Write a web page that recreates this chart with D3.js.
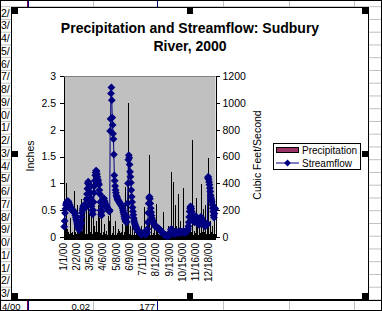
<!DOCTYPE html>
<html><head><meta charset="utf-8">
<script src="https://cdn.jsdelivr.net/npm/d3@7"></script>
<style>
html,body{margin:0;padding:0;background:#fff;overflow:hidden}
svg{display:block;font-family:Arial,"Liberation Sans",sans-serif}
</style></head><body>
<svg id="c" width="382" height="311"></svg>
<script>
// ---- Data (daily, year 2000) ----
const flowJan = [77,120,178,210,238,250,258,262,265,268,263,255,245,240,230,220,210,205,200,200,205,200,195,190,185,180,175,160,145,130,120];
const flowFeb = [105,95,80,70,60,52,60,75,90,100,110,150,180,200,215,225,232,238,240,238,230,220,240,280,320,360,400,412,400];
const flowMar = [390,375,370,330,290,260,230,200,175,170,200,260,330,380,420,460,480,495,490,470,450,430,420,400,390,350,320,260,200,170,160];
const flowApr = [190,230,260,280,290,285,270,260,250,240,235,230,225,220,210,205,200,195,190,200,790,880,1070,1115,1020,890,835,770,730,615];
const flowMay = [460,420,380,350,330,310,300,290,280,275,270,265,260,255,250,245,240,235,230,225,215,200,185,170,155,140,130,120,115,110,112];
const flowJun = [150,250,400,575,610,590,540,487,450,405,350,300,260,220,190,165,140,120,104,95,85,77,70,62,55,50,45,42,40,38];
const flowJul = [35,30,28,25,22,20,20,22,25,28,30,28,25,22,20,20,22,25,35,60,110,180,250,290,300,285,250,215,185,160,140];
const flowAug = [125,115,105,100,95,90,85,80,78,75,75,72,70,68,65,62,60,58,55,52,50,45,40,35,30,28,25,22,20,18,16];
const flowSep = [15,14,12,10,10,8,8,8,10,12,14,16,25,40,55,60,55,45,38,32,28,25,24,24,26,30,35,40,38,35];
const flowOct = [32,30,28,30,35,40,45,42,38,35,33,32,34,38,42,40,38,35,33,32,35,38,40,45,50,60,80,110,150,190,215];
const flowNov = [228,225,210,190,170,150,135,125,120,115,110,120,140,155,150,140,130,120,110,100,95,90,100,120,140,150,145,135,125,115];
const flowDec = [105,100,95,90,85,80,85,95,100,95,90,100,440,450,430,410,390,365,340,310,290,275,260,240,215,190,160,145,175,215,210];

const rainJan = [0.05,0.12,0.3,0.02,0,0.08,1.0,0.04,0.15,0,0.03,0.1,0,0.06,0.35,0.02,0,0.05,0.08,0,0.04,0.1,0,0.03,0.85,0.06,0,0.02,0.09,0,0.05];
const rainFeb = [0.04,0.02,0.6,0.08,0,0.2,0.05,0,0.1,0.03,0.06,0.7,0.02,0,0.12,0.66,0.04,0.08,0.75,0,0.05,0.03,0.5,0.1,0,0.06,0.04,0.75,0.08];
const rainMar = [0.06,0,0.45,0.1,0.03,0,0.08,0.4,0.05,0.02,0.12,1.15,0.2,0.04,0,0.06,0.09,0.3,0.03,0,0.05,0.1,0.6,0.07,0,0.04,0.35,0.02,0.08,0,0.05];
const rainApr = [0.5,0.04,0,0.08,0.03,0.1,0,0.25,0.05,0.02,0,0.07,0.12,0.03,0,0.4,0.06,0,0.1,0.3,0.45,0.2,0.05,0,0.03,0.08,0,0.2,0.04,0];
const rainMay = [0.02,0,0.06,0.1,0.3,0.04,0,0.08,0.02,0.15,0,0.05,0.12,0,0.03,0.07,0,0.1,0.04,0.25,0,0.06,0.02,0,0.09,0.05,0,0.12,0.93,0.2,0.04];
const rainJun = [0.05,0.1,0.3,0.15,2.5,0.06,0,0.03,0,0.2,0.04,0,0.08,0,0.4,0.02,0,0,0.06,0.1,0,0.03,0,0.35,0.05,0,0.02,0.08,0,0.15];
const rainJul = [0,0.04,0,0.1,0.2,0,0.02,0.06,0,0,0.03,0.56,0.08,0.5,0,0.02,0,0.05,0,0.04,0.3,0.12,0.35,0.2,1.53,0.05,0,0.03,0,0.08,0.25];
const rainAug = [0.03,0,0.08,0,0.38,0.05,0,0.02,0,0.62,0.1,0,0.04,0.2,0,0,0.06,0.02,0,0.03,0.15,0,0.05,0,0.02,0.08,0,0,0.47,0.06,0];
const rainSep = [0.02,0,0.1,0.04,0,0,0.06,0.2,0,0.03,0,0.08,0.02,0.1,1.22,0.05,0,0.02,0.06,1.03,0.04,0,0.03,0.08,0.59,0.02,0,0.05,0.2,0];
const rainOct = [0.04,0,0.81,0.06,0,0.02,0.1,0,0.3,0.04,0,0.08,0.02,0,0.05,0.91,0.1,0,0.03,0.06,0.15,0,0.04,0.02,0,0.08,0.34,0.12,0.45,0.06,0.2];
const rainNov = [0.08,0.03,0,0.1,0.05,1.8,0.06,0,0.02,0.12,0.04,0,0.08,0.03,0.73,0.05,0,0.1,0.25,0.02,0,0.06,0.04,0.3,0,0.08,0.03,0.98,0.1,0.05];
const rainDec = [0.06,0.53,0.04,0,0.1,0.03,0.08,0.6,0.05,0,0.45,0.12,0.3,1.48,0.1,0.04,0.06,0,0.08,0.3,0.05,0.02,0.1,0,0.2,0.06,0.04,0.08,0,0.35,0.05];

const tickLabels = ["1/1/00","2/2/00","3/5/00","4/6/00","5/8/00","6/9/00","7/11/00","8/12/00","9/13/00","10/15/00","11/16/00","12/18/00"];
const tickDays = [0,32,64,96,128,160,192,224,256,288,320,352];
const leftTicks = [0,0.5,1,1.5,2,2.5,3];
const rightTicks = [0,200,400,600,800,1000,1200];
const seriesNames = ["Precipitation","Streamflow"];
const titleLines = ["Precipitation and Streamflow: Sudbury","River, 2000"];
const axisTitles = ["Inches","Cubic Feet/Second"];
const sheetRowLabels = ["2/","3/","4/","5/","6/","7/","8/","9/","0/","1/","2/","3/","4/","5/","6/","7/","8/","9/","0/","1/","1/","2/","3/"];
const sheetBottomRow = ["4/00","0.02","177"];

const streamflow = [].concat(flowJan,flowFeb,flowMar,flowApr,flowMay,flowJun,flowJul,flowAug,flowSep,flowOct,flowNov,flowDec);
const precipitation = [].concat(rainJan,rainFeb,rainMar,rainApr,rainMay,rainJun,rainJul,rainAug,rainSep,rainOct,rainNov,rainDec);
const days = d3.range(streamflow.length);

// ---- Drawing ----
const svg = d3.select("#c");
const W = 382, H = 311;
const navy = "#000080";

// spreadsheet background
const sheet = svg.append("g");
const rowH = 12.75, row0 = 6.7;
for (let k = 0; k <= 23; k++) {
  sheet.append("line").attr("x1",0).attr("x2",W).attr("y1",row0+k*rowH).attr("y2",row0+k*rowH)
    .attr("stroke","#c0c0c0").attr("stroke-width",1);
}
[93.5,223.5,289.5,354.5].forEach(x=>sheet.append("line").attr("x1",x).attr("x2",x).attr("y1",0).attr("y2",H).attr("stroke","#c0c0c0"));
sheet.append("line").attr("x1",27.5).attr("x2",27.5).attr("y1",0).attr("y2",H).attr("stroke","#800040");
sheet.append("line").attr("x1",28.5).attr("x2",28.5).attr("y1",0).attr("y2",H).attr("stroke",navy);
sheet.append("line").attr("x1",157.5).attr("x2",157.5).attr("y1",0).attr("y2",H).attr("stroke",navy);
sheetRowLabels.forEach((t,k)=>sheet.append("text").attr("x",1).attr("y",row0+k*rowH+10).attr("font-size","10.5px").text(t));
sheet.append("text").attr("x",2).attr("y",309.5).attr("font-size","9.5px").text(sheetBottomRow[0]);
sheet.append("text").attr("x",90).attr("y",309.5).attr("text-anchor","end").attr("font-size","9.5px").text(sheetBottomRow[1]);
sheet.append("text").attr("x",155).attr("y",309.5).attr("text-anchor","end").attr("font-size","9.5px").text(sheetBottomRow[2]);
sheet.append("line").attr("x1",0).attr("x2",W).attr("y1",300.5).attr("y2",300.5).attr("stroke","#000");

// chart frame
svg.append("rect").attr("x",11.5).attr("y",7.5).attr("width",357).attr("height",292)
  .attr("fill","#fff").attr("stroke","#000").attr("stroke-width",1);

// title
titleLines.forEach((t,i)=>svg.append("text").attr("x",190).attr("y",33+i*17.5)
  .attr("text-anchor","middle").attr("font-weight","bold").attr("font-size","14px").text(t));

// scales
const L = 64, R = 215.5, T = 76, B = 237;
const x = d3.scaleBand().domain(days).range([L,R]).paddingInner(0).paddingOuter(0);
const bw = x.bandwidth();
const yL = d3.scaleLinear().domain([0,3]).range([B,T]);
const yR = d3.scaleLinear().domain([0,1200]).range([B,T]);

// plot area
svg.append("rect").attr("x",L).attr("y",T).attr("width",R-L).attr("height",B-T).attr("fill","#c0c0c0");
svg.append("line").attr("x1",L).attr("x2",R).attr("y1",T+0.5).attr("y2",T+0.5).attr("stroke","#808080");

// precipitation bars
svg.append("g").attr("shape-rendering","crispEdges").selectAll("rect")
  .data(days.filter(i=>precipitation[i]>0)).join("rect")
  .attr("x",i=>Math.floor(x(i)+bw/2))
  .attr("width",1)
  .attr("y",i=>yL(precipitation[i]))
  .attr("height",i=>B-yL(precipitation[i]))
  .attr("fill","#000");

// axes
const fontSz = "10.5px";
const gl = svg.append("g").attr("transform",`translate(${L},0)`)
  .call(d3.axisLeft(yL).tickValues(leftTicks).tickSize(4).tickSizeOuter(0).tickPadding(4).tickFormat(d3.format("")));
const gr = svg.append("g").attr("transform",`translate(${R},0)`)
  .call(d3.axisRight(yR).tickValues(rightTicks).tickSize(4).tickSizeOuter(0).tickPadding(3).tickFormat(d3.format("")));
[gl,gr].forEach(g=>{
  g.selectAll("text").attr("font-size",fontSz).attr("fill","#000").attr("font-family",null);
  g.selectAll("line,path").attr("stroke","#000").attr("shape-rendering","crispEdges");
  g.attr("font-family",null);
});

const gb = svg.append("g").attr("transform",`translate(0,${B})`)
  .call(d3.axisBottom(x).tickValues(days).tickSize(3).tickSizeOuter(0).tickFormat(""));
gb.selectAll("line").attr("y1",-2).attr("stroke","#000").attr("shape-rendering","crispEdges");
gb.select(".domain").attr("stroke","#000").attr("shape-rendering","crispEdges");
gb.attr("font-family",null);

svg.append("g").selectAll("text").data(tickDays).join("text")
  .attr("transform",d=>`translate(${x(d)+bw/2-1},243) rotate(-90)`)
  .attr("text-anchor","end").attr("dy","0.35em").attr("font-size","10px")
  .text((d,i)=>tickLabels[i]);

// streamflow line + markers
const line = d3.line().x(i=>x(i)+bw/2).y(i=>yR(streamflow[i]));
svg.append("path").datum(days).attr("d",line).attr("fill","none").attr("stroke",navy).attr("stroke-width",1);
const diamond = "M0,-3.9L3.9,0L0,3.9L-3.9,0Z";
svg.append("g").selectAll("path").data(days).join("path")
  .attr("transform",i=>`translate(${x(i)+bw/2},${yR(streamflow[i])})`)
  .attr("d",diamond).attr("fill",navy);

// axis titles
svg.append("text").attr("transform","translate(33.5,156) rotate(-90)").attr("text-anchor","middle")
  .attr("font-size","10.5px").text(axisTitles[0]);
svg.append("text").attr("transform","translate(260.5,155) rotate(-90)").attr("text-anchor","middle")
  .attr("font-size","10.5px").text(axisTitles[1]);

// legend
const lg = svg.append("g");
lg.append("rect").attr("x",273.5).attr("y",143.5).attr("width",87).attr("height",26).attr("fill","#fff").attr("stroke","#000");
lg.append("rect").attr("x",276.5).attr("y",147.5).attr("width",22).attr("height",5).attr("fill","#993366").attr("stroke","#000");
lg.append("text").attr("x",302).attr("y",150.5).attr("dy","0.35em").attr("font-size","10px").text(seriesNames[0]);
lg.append("line").attr("x1",276).attr("x2",299).attr("y1",163).attr("y2",163).attr("stroke",navy);
lg.append("path").attr("transform","translate(287.5,163)").attr("d","M0,-3.4L3.4,0L0,3.4L-3.4,0Z").attr("fill",navy);
lg.append("text").attr("x",302).attr("y",163).attr("dy","0.35em").attr("font-size","10px").text(seriesNames[1]);

// selection handles
[[12,8],[187,8],[362,8],[12,151],[362,151],[12,293],[187,293],[362,293]].forEach(([hx,hy])=>
  svg.append("rect").attr("x",hx).attr("y",hy).attr("width",6).attr("height",6).attr("fill","#000"));

// outer border
svg.append("rect").attr("x",0.5).attr("y",0.5).attr("width",W-1).attr("height",H-1).attr("fill","none").attr("stroke","#000");
</script>
</body></html>
